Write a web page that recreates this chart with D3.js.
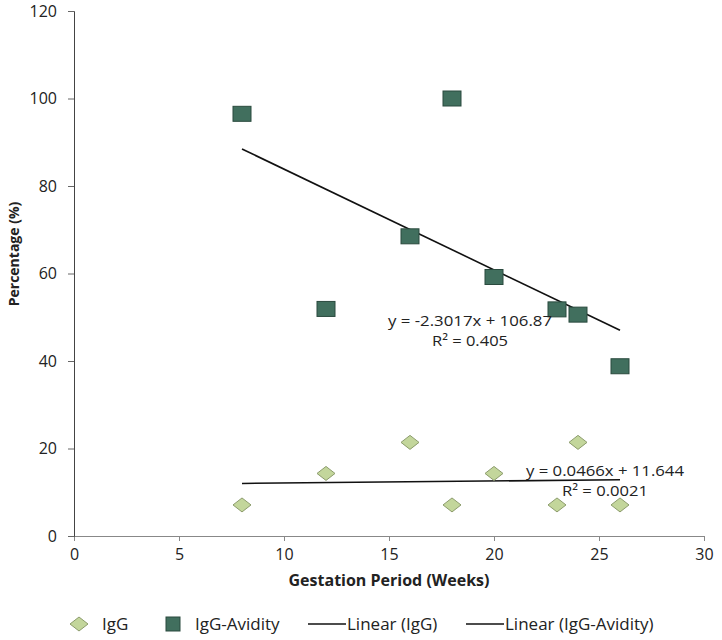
<!DOCTYPE html>
<html><head><meta charset="utf-8">
<script src="https://cdn.jsdelivr.net/npm/d3@7"></script>
<style>body{margin:0;background:#fff}svg{display:block}text{font-family:"Open Sans",Lato,sans-serif}</style>
</head><body>
<svg id="c" width="722" height="640"></svg>
<script>
const weeks = [8, 12, 16, 18, 20, 23, 24, 26];
const igg = [7.1, 14.3, 21.4, 7.1, 14.3, 7.1, 21.4, 7.1];
const avidity = [96.5, 51.9, 68.5, 100, 59.2, 51.8, 50.6, 38.8];
const xTicks = [0, 5, 10, 15, 20, 25, 30];
const yTicks = [0, 20, 40, 60, 80, 100, 120];
const trendIgg = {slope: 0.0466, intercept: 11.644, r2: "0.0021"};
const trendAvid = {slope: -2.3017, intercept: 106.87, r2: "0.405"};
const legendLabels = ["IgG", "IgG-Avidity", "Linear (IgG)", "Linear (IgG-Avidity)"];

const svg = d3.select("#c");
const x = d3.scaleLinear().domain([0, 30]).range([74, 704]);
const y = d3.scaleLinear().domain([0, 120]).range([536, 11]);

const xAxis = svg.append("g").attr("transform", "translate(0,536)")
  .call(d3.axisBottom(x).tickValues(xTicks).tickSize(5).tickPadding(8));
xAxis.select(".domain").attr("stroke", "#888");
xAxis.selectAll(".tick line").attr("stroke", "#888");
xAxis.selectAll("text").attr("font-size", 16).attr("fill", "#222").attr("font-family", "'Open Sans'");

const yAxis = svg.append("g").attr("transform", "translate(74,0)")
  .call(d3.axisLeft(y).tickValues(yTicks).tickSize(6).tickPadding(11));
yAxis.select(".domain").attr("stroke", "#444");
yAxis.selectAll(".tick line").attr("stroke", "#666");
yAxis.selectAll("text").attr("font-size", 16).attr("fill", "#222").attr("font-family", "'Open Sans'");

svg.append("text").attr("x", 389).attr("y", 586).attr("text-anchor", "middle")
  .attr("font-size", 16).attr("font-weight", "bold").attr("fill", "#222").text("Gestation Period (Weeks)");
svg.append("text").attr("transform", "translate(19,254) rotate(-90)").attr("text-anchor", "middle")
  .attr("font-family", "Lato").attr("font-size", 14).attr("font-weight", "bold").attr("fill", "#222").text("Percentage (%)");

// trend lines
const xmin = d3.min(weeks), xmax = d3.max(weeks);
[trendIgg, trendAvid].forEach(t => {
  svg.append("line")
    .attr("x1", x(xmin)).attr("y1", y(t.slope * xmin + t.intercept))
    .attr("x2", x(xmax)).attr("y2", y(t.slope * xmax + t.intercept))
    .attr("stroke", "#111").attr("stroke-width", 1.6);
});

// IgG diamonds
svg.append("g").selectAll("path").data(weeks).join("path")
  .attr("d", (d, i) => { const cx = x(d), cy = y(igg[i]); return `M${cx},${cy-7}L${cx+9},${cy}L${cx},${cy+7}L${cx-9},${cy}Z`; })
  .attr("fill", "#c3d69b").attr("stroke", "#8c9c6c").attr("stroke-width", 1);

// Avidity squares
svg.append("g").selectAll("rect").data(weeks).join("rect")
  .attr("x", d => x(d) - 9).attr("y", (d, i) => y(avidity[i]) - 7.5)
  .attr("width", 18).attr("height", 15)
  .attr("fill", "#416f5e").attr("stroke", "#2a4a3e").attr("stroke-width", 1);

// equation labels
function eq(t) {
  const s = t.slope < 0 ? "-" + Math.abs(t.slope) : t.slope;
  return `y = ${s}x + ${t.intercept}`;
}
const labels = [
  {t: trendAvid, cx: 470, y1: 326, y2: 346, w1: 164, w2: 76},
  {t: trendIgg, cx: 605, y1: 476, y2: 496, w1: 158, w2: 86}
];
labels.forEach(l => {
  svg.append("text").attr("x", l.cx).attr("y", l.y1).attr("text-anchor", "middle")
    .attr("font-size", 15).attr("fill", "#222")
    .attr("textLength", l.w1).attr("lengthAdjust", "spacingAndGlyphs").text(eq(l.t));
  svg.append("text").attr("x", l.cx).attr("y", l.y2).attr("text-anchor", "middle")
    .attr("font-size", 15).attr("fill", "#222")
    .attr("textLength", l.w2).attr("lengthAdjust", "spacingAndGlyphs").text("R² = " + l.t.r2);
});

// legend
const lg = svg.append("g");
const ly = 624;
const fs = 17;
lg.append("path").attr("d", `M79,${ly-7}L88,${ly}L79,${ly+7}L70,${ly}Z`)
  .attr("fill", "#c3d69b").attr("stroke", "#8c9c6c");
lg.append("text").attr("x", 102).attr("y", ly + 6).attr("font-size", fs).attr("fill", "#222").text(legendLabels[0]);
lg.append("rect").attr("x", 166).attr("y", ly - 7).attr("width", 14).attr("height", 14)
  .attr("fill", "#416f5e").attr("stroke", "#2a4a3e");
lg.append("text").attr("x", 195).attr("y", ly + 6).attr("font-size", fs).attr("fill", "#222").text(legendLabels[1]);
lg.append("line").attr("x1", 308).attr("x2", 346).attr("y1", ly).attr("y2", ly).attr("stroke", "#111").attr("stroke-width", 1.5);
lg.append("text").attr("x", 347).attr("y", ly + 6).attr("font-size", fs).attr("fill", "#222").text(legendLabels[2]);
lg.append("line").attr("x1", 466).attr("x2", 504).attr("y1", ly).attr("y2", ly).attr("stroke", "#111").attr("stroke-width", 1.5);
lg.append("text").attr("x", 505).attr("y", ly + 6).attr("font-size", fs).attr("fill", "#222").text(legendLabels[3]);
</script>
</body></html>
